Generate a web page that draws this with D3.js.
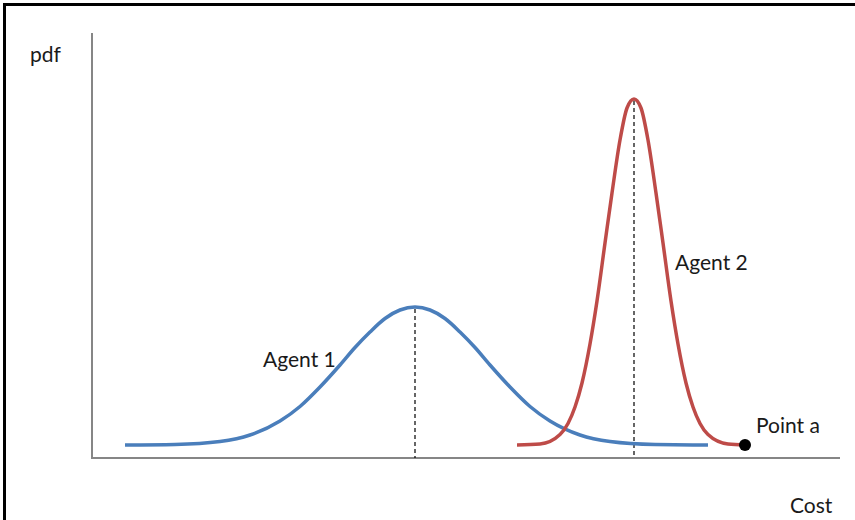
<!DOCTYPE html>
<html>
<head>
<meta charset="utf-8">
<script src="https://cdn.jsdelivr.net/npm/d3@7"></script>
<style>
  html, body { margin: 0; padding: 0; background: #fff; }
  svg { display: block; }
  text { font-family: Lato, "Open Sans", sans-serif; fill: #1a1a1a; }
</style>
</head>
<body>
<div id="chart"></div>
<script>
// Valores (unidades arbitrarias: coste en x, densidad en y)
const agent1Cost = [33, 83, 128, 158, 188, 208, 228, 248, 263, 278, 293, 308, 323, 338, 353, 368, 383, 398, 418, 438, 458, 488, 518, 563, 616];
const agent1Pdf  = [13, 13.5, 16.5, 23, 37, 51.5, 71, 93, 110.5, 126, 139.5, 148, 151, 148, 139.5, 126, 110.5, 93, 71, 51.5, 37, 23, 16.5, 13.5, 13];

const agent2Cost = [425, 448, 468, 476, 483, 490, 498, 505, 513, 520, 528, 535, 542, 549, 556, 564, 571, 579, 586, 594, 601, 608, 616, 636, 653];
const agent2Pdf  = [13, 14, 23.5, 34.5, 51, 75, 114, 157, 215, 265, 318, 350, 359, 350, 318, 265, 215, 157, 114, 75, 51, 34.5, 23.5, 14, 13];

const meanCosts = [323, 542];
const meanPeaks = [151, 359];
const pointA = { cost: 653, pdf: 13 };

const labels = [
  { text: 'Agent 1', cost: 171, pdf: 91 },
  { text: 'Agent 2', cost: 583, pdf: 188 },
  { text: 'Point a', cost: 664, pdf: 25 }
];

const W = 855, H = 520;
const svg = d3.select('#chart').append('svg').attr('width', W).attr('height', H);

const x = d3.scaleLinear().domain([0, 748]).range([92, 840]);
const y = d3.scaleLinear().domain([0, 425]).range([458, 33]);

// marco (solo arriba e izquierda, la imagen está recortada)
svg.append('line').attr('x1', 3).attr('x2', W).attr('y1', 4.5).attr('y2', 4.5)
  .attr('stroke', '#000').attr('stroke-width', 3);
svg.append('line').attr('x1', 4.5).attr('x2', 4.5).attr('y1', 3).attr('y2', H)
  .attr('stroke', '#000').attr('stroke-width', 3);

// ejes sin marcas
svg.append('line').attr('x1', x(0)).attr('x2', x(0)).attr('y1', y(425)).attr('y2', y(0))
  .attr('stroke', '#868686').attr('stroke-width', 2);
svg.append('line').attr('x1', x(0) - 1).attr('x2', x(748)).attr('y1', y(0)).attr('y2', y(0))
  .attr('stroke', '#868686').attr('stroke-width', 2);

// líneas punteadas en la media
svg.selectAll('line.mean').data(meanCosts).enter().append('line')
  .attr('class', 'mean')
  .attr('x1', d => x(d)).attr('x2', d => x(d))
  .attr('y1', (d, i) => y(meanPeaks[i]) + 2).attr('y2', y(0))
  .attr('stroke', '#000').attr('stroke-width', 1.2).attr('stroke-dasharray', '4,3');

const line = d3.line().x(d => x(d[0])).y(d => y(d[1])).curve(d3.curveMonotoneX);

svg.append('path').datum(d3.zip(agent1Cost, agent1Pdf))
  .attr('d', line).attr('fill', 'none').attr('stroke', '#4A7EBB')
  .attr('stroke-width', 3.5);

svg.append('path').datum(d3.zip(agent2Cost, agent2Pdf))
  .attr('d', line).attr('fill', 'none').attr('stroke', '#BE4B48')
  .attr('stroke-width', 3.5);

svg.append('circle').attr('cx', x(pointA.cost)).attr('cy', y(pointA.pdf)).attr('r', 6).attr('fill', '#000');

svg.selectAll('text.lbl').data(labels).enter().append('text')
  .attr('class', 'lbl')
  .attr('x', d => x(d.cost)).attr('y', d => y(d.pdf))
  .attr('font-size', 21)
  .text(d => d.text);

svg.append('text').attr('x', 30).attr('y', 62).attr('font-size', 21).text('pdf');
svg.append('text').attr('x', 790).attr('y', 513).attr('font-size', 21).text('Cost');
</script>
</body>
</html>
